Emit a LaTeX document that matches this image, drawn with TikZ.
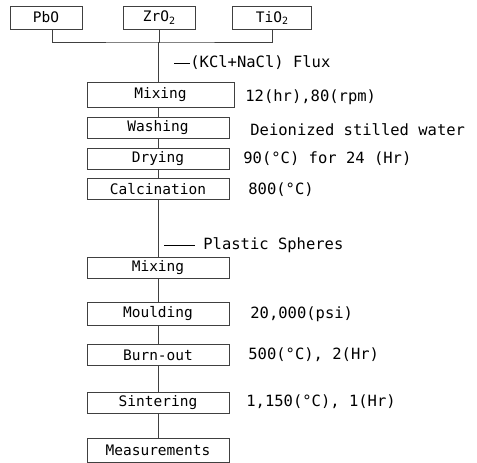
\documentclass[tikz,border=0pt]{standalone}
\usepackage{fontspec}
\setmainfont{DejaVu Sans Mono}
\usepackage{tikz}
\usetikzlibrary{positioning, calc}

\newcommand{\sub}[1]{\raisebox{-0.35ex}{\fontsize{10}{10}\selectfont #1}}

\begin{document}
\begin{tikzpicture}[x=1pt, y=-1pt, line width=0.8pt,
		stepbox/.style={draw=black!75, minimum width=142pt, minimum height=21pt, inner sep=0pt, font=\fontsize{14.5}{17}\selectfont},
		srcbox/.style={draw=black!75, minimum height=23pt, inner sep=0pt, font=\fontsize{14.5}{17}\selectfont},
		note/.style={anchor=west, inner sep=0pt, font=\fontsize{15.5}{18}\selectfont}]
			\useasboundingbox (0,0) rectangle (477,463);
			% raw materials
			\node[srcbox, minimum width=72pt] (pbo) at (46,17.5) {PbO};
			\node[srcbox, minimum width=72pt] (zro) at (159,17.5) {ZrO\sub{2}};
			\node[srcbox, minimum width=79pt] (tio) at (272,18) {TiO\sub{2}};
			\coordinate (bus) at (158,42);
			% process steps
			\node[stepbox, minimum width=147pt, minimum height=25pt] (mix1) at (160.5,94.5) {Mixing};
			\node[stepbox] (wash) at (158,128) {Washing};
			\node[stepbox] (dry) at (158,159) {Drying};
			\node[stepbox] (calc) at (158,189) {Calcination};
			\node[stepbox] (mix2) at (158,267.5) {Mixing};
			\node[stepbox, minimum height=23pt] (mould) at (158,313.5) {Moulding};
			\node[stepbox] (burn) at (158,355) {Burn-out};
			\node[stepbox] (sinter) at (158,402.5) {Sintering};
			\node[stepbox, minimum height=24pt] (meas) at (158,450) {Measurements};
			% additions
			\node[note] (flux) at (190,63) {(KCl+NaCl) Flux};
			\coordinate (fluxend) at (174,63);
			\node[note] (sphere) at (203,245) {Plastic Spheres};
			\coordinate (sphereend) at (164,245);
			% conditions
			\node[note] (c1) at (245,97) {12(hr),80(rpm)};
			\node[note] (c2) at (250,130) {Deionized stilled water};
			\node[note] (c3) at (243,159) {90(°C) for 24 (Hr)};
			\node[note] (c4) at (248,190) {800(°C)};
			\node[note] (c5) at (250,314) {20,000(psi)};
			\node[note] (c6) at (248,355) {500(°C), 2(Hr)};
			\node[note] (c7) at (246,402) {1,150(°C), 1(Hr)};
			% connectors
			\draw[black!75] ([xshift=6pt]pbo.south) |- (bus) -| (tio.south);
			\draw[black!75] (zro.south) |- (bus) -- (bus |- mix1.north);
			\draw[black!75] (wash.north) -- (wash.north |- mix1.south);
			\draw[black!75] (wash) -- (dry);
			\draw[black!75] (dry) -- (calc);
			\draw[black!75] (calc) -- (mix2);
			\draw[black!75] (mix2) -- (mould);
			\draw[black!75] (mould) -- (burn);
			\draw[black!75] (burn) -- (sinter);
			\draw[black!75] (sinter) -- (meas);
			\draw (fluxend) -- (flux.west);
			\draw (sphereend) -- ([xshift=-8pt]sphere.west);
		\end{tikzpicture}
\end{document}
